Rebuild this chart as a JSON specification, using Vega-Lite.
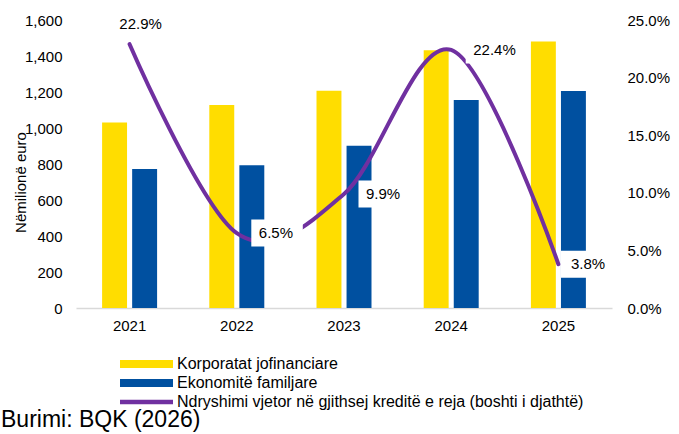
{
  "$schema": "https://vega.github.io/schema/vega-lite/v6.json",
  "width": 536,
  "height": 288,
  "autosize": "none",
  "padding": {"left": 76, "top": 20, "right": 67, "bottom": 126},
  "config": {
    "view": {"stroke": null},
    "font": "Liberation Sans",
    "axis": {"labelFont": "Liberation Sans", "labelFontSize": 15, "labelColor": "#000", "ticks": false, "grid": false, "domain": false, "titleFont": "Liberation Sans", "titleFontWeight": "normal", "titleColor": "#000"},
    "text": {"font": "Liberation Sans", "fontSize": 15, "color": "#000"}
  },
  "datasets": {
    "bars": [
      {"year": 2021, "series": "Korporatat jofinanciare", "value": 1030},
      {"year": 2021, "series": "Ekonomitë familjare", "value": 772},
      {"year": 2022, "series": "Korporatat jofinanciare", "value": 1128},
      {"year": 2022, "series": "Ekonomitë familjare", "value": 793},
      {"year": 2023, "series": "Korporatat jofinanciare", "value": 1207},
      {"year": 2023, "series": "Ekonomitë familjare", "value": 902},
      {"year": 2024, "series": "Korporatat jofinanciare", "value": 1432},
      {"year": 2024, "series": "Ekonomitë familjare", "value": 1156},
      {"year": 2025, "series": "Korporatat jofinanciare", "value": 1480},
      {"year": 2025, "series": "Ekonomitë familjare", "value": 1206}
    ],
    "line": [
      {"year": 2021, "pct": 0.229},
      {"year": 2022, "pct": 0.065},
      {"year": 2023, "pct": 0.099},
      {"year": 2024, "pct": 0.224},
      {"year": 2025, "pct": 0.038}
    ]
  },
  "title": {"text": "Burimi: BQK (2026)", "orient": "bottom", "anchor": "start", "frame": "group", "fontSize": 23, "fontWeight": "normal", "font": "Liberation Sans", "color": "#000", "dx": -75, "offset": -1},
  "layer": [
    {
      "data": {"name": "bars"},
      "mark": {"type": "bar"},
      "encoding": {
        "x": {"field": "year", "type": "ordinal", "scale": {"paddingInner": 0.487, "paddingOuter": 0.2435},
          "axis": {"title": null, "labelAngle": 0, "domain": true, "domainColor": "#d9d9d9", "domainWidth": 1.5, "labelPadding": 10}},
        "xOffset": {"field": "series", "type": "nominal", "scale": {"domain": ["Korporatat jofinanciare", "Ekonomitë familjare"], "paddingInner": 0.17}},
        "y": {"field": "value", "type": "quantitative", "scale": {"domain": [0, 1600], "nice": false},
          "axis": {"values": [0, 200, 400, 600, 800, 1000, 1200, 1400, 1600], "format": ",.0f", "title": "Nëmilionë euro", "titleFontSize": 15, "titleX": -56, "titleY": 162, "titleAngle": -90, "titleAlign": "center", "titleBaseline": "middle", "labelPadding": 14}},
        "color": {"field": "series", "type": "nominal",
          "scale": {"domain": ["Korporatat jofinanciare", "Ekonomitë familjare", "Ndryshimi vjetor në gjithsej kreditë e reja (boshti i djathtë)"], "range": ["#FFDD00", "#0050A0", "#7030A0"]},
          "legend": {"orient": "none", "legendX": 36, "legendY": 336, "title": null, "direction": "vertical",
            "symbolType": "M0,-4H53V4H0Z", "symbolSize": 4, "labelFontSize": 16, "labelFont": "Liberation Sans", "labelColor": "#000", "labelOffset": 49, "labelLimit": 0, "rowPadding": 3, "symbolOpacity": 1,
            "encode": {"symbols": {"update": {
              "shape": {"signal": "datum.value === 'Ndryshimi vjetor në gjithsej kreditë e reja (boshti i djathtë)' ? 'M0,-2.3H53V2.3H0Z' : 'M0,-4H53V4H0Z'"},
              "fill": {"scale": "color", "field": "value"},
              "strokeWidth": {"value": 0}
            }}}}}
      }
    },
    {
      "data": {"name": "line"},
      "layer": [
        {
          "mark": {"type": "line", "interpolate": "cardinal", "strokeWidth": 4, "strokeCap": "round"},
          "encoding": {
            "x": {"field": "year", "type": "ordinal"},
            "y": {"field": "pct", "type": "quantitative", "scale": {"domain": [0, 0.25], "nice": false},
              "axis": {"orient": "right", "title": null, "values": [0, 0.05, 0.1, 0.15, 0.2, 0.25], "format": ".1%", "labelPadding": 15}},
            "color": {"datum": "Ndryshimi vjetor në gjithsej kreditë e reja (boshti i djathtë)"}
          }
        },
        {
          "transform": [{"filter": "datum.year >= 2022 && datum.year <= 2024"}],
          "mark": {"type": "point", "shape": "M14.5,-13.5H66V13.5H14.5Z", "size": 4, "filled": true, "fill": "#ffffff", "opacity": 1, "strokeOpacity": 0},
          "encoding": {"x": {"field": "year", "type": "ordinal"}, "y": {"field": "pct", "type": "quantitative"}}
        },
        {
          "transform": [{"filter": "datum.year == 2025"}],
          "mark": {"type": "point", "shape": "M2.5,-13.5H54V13.5H2.5Z", "size": 4, "filled": true, "fill": "#ffffff", "opacity": 1, "strokeOpacity": 0},
          "encoding": {"x": {"field": "year", "type": "ordinal"}, "y": {"field": "pct", "type": "quantitative"}}
        },
        {
          "transform": [{"filter": "datum.year >= 2022 && datum.year <= 2024"}],
          "mark": {"type": "text", "align": "left", "baseline": "middle", "dx": 22},
          "encoding": {"x": {"field": "year", "type": "ordinal"}, "y": {"field": "pct", "type": "quantitative"}, "text": {"field": "pct", "type": "quantitative", "format": ".1%"}}
        },
        {
          "transform": [{"filter": "datum.year == 2025"}],
          "mark": {"type": "text", "align": "left", "baseline": "middle", "dx": 12.5},
          "encoding": {"x": {"field": "year", "type": "ordinal"}, "y": {"field": "pct", "type": "quantitative"}, "text": {"field": "pct", "type": "quantitative", "format": ".1%"}}
        },
        {
          "transform": [{"filter": "datum.year == 2021"}],
          "mark": {"type": "text", "align": "center", "baseline": "middle", "dx": 11, "dy": -20},
          "encoding": {"x": {"field": "year", "type": "ordinal"}, "y": {"field": "pct", "type": "quantitative"}, "text": {"field": "pct", "type": "quantitative", "format": ".1%"}}
        }
      ]
    }
  ],
  "resolve": {"scale": {"y": "independent"}}
}
